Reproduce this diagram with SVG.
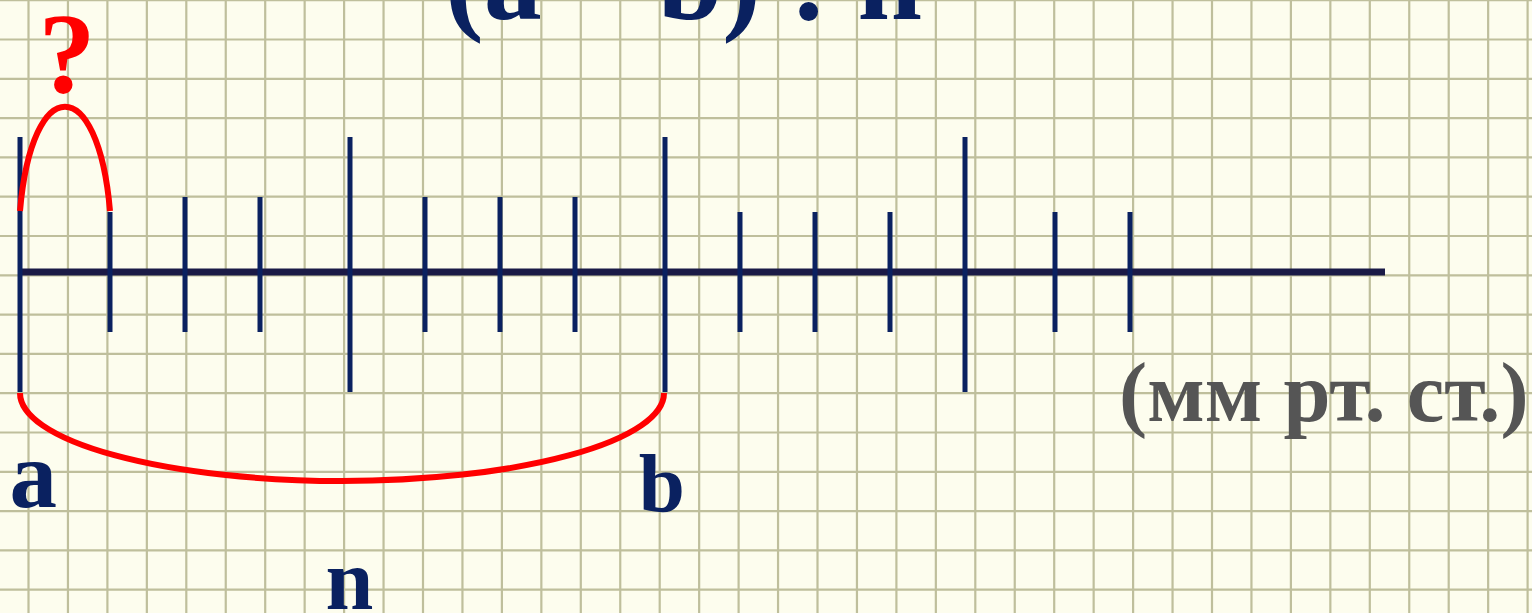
<svg xmlns="http://www.w3.org/2000/svg" width="1532" height="613" viewBox="0 0 1532 613">
<style>
.grid{stroke:#bfbf9c;stroke-width:2.2;fill:none}
.axis{stroke:#1a1a46;stroke-width:7;fill:none}
.tick{stroke:#0a2160;stroke-width:5;fill:none}
.arc{stroke:#ff0000;stroke-width:6;fill:none}
.lbl{font-family:"Liberation Serif","Times New Roman",serif;font-weight:bold;fill:#0a2160}
</style>
<rect x="0" y="0" width="1532" height="613" fill="#fdfdee"/>
<path class="grid" d="M28.5,0V613M67.95,0V613M107.4,0V613M146.85,0V613M186.3,0V613M225.75,0V613M265.2,0V613M304.65,0V613M344.1,0V613M383.55,0V613M423,0V613M462.45,0V613M501.9,0V613M541.35,0V613M580.8,0V613M620.25,0V613M659.7,0V613M699.15,0V613M738.6,0V613M778.05,0V613M817.5,0V613M856.95,0V613M896.4,0V613M935.85,0V613M975.3,0V613M1014.75,0V613M1054.2,0V613M1093.65,0V613M1133.1,0V613M1172.55,0V613M1212,0V613M1251.45,0V613M1290.9,0V613M1330.35,0V613M1369.8,0V613M1409.25,0V613M1448.7,0V613M1488.15,0V613M1527.6,0V613M0,0.2H1532M0,39.5H1532M0,78.8H1532M0,118.1H1532M0,157.4H1532M0,196.7H1532M0,236H1532M0,275.3H1532M0,314.6H1532M0,353.9H1532M0,393.2H1532M0,432.5H1532M0,471.8H1532M0,511.1H1532M0,550.4H1532M0,589.7H1532"/>
<text id="title" class="lbl" x="445" y="19" font-size="116">(a – b) : n</text>
<g id="connectors">
<line id="axis" class="axis" x1="18" y1="272" x2="1385" y2="272"/>
</g>
<g id="ticks">
<line class="tick" x1="20" y1="137" x2="20" y2="392"/>
<line class="tick" x1="110" y1="212" x2="110" y2="332"/>
<line class="tick" x1="185" y1="197" x2="185" y2="332"/>
<line class="tick" x1="260" y1="197" x2="260" y2="332"/>
<line class="tick" x1="350" y1="137" x2="350" y2="392"/>
<line class="tick" x1="425" y1="197" x2="425" y2="332"/>
<line class="tick" x1="500" y1="197" x2="500" y2="332"/>
<line class="tick" x1="575" y1="197" x2="575" y2="332"/>
<line class="tick" x1="665" y1="137" x2="665" y2="392"/>
<line class="tick" x1="740" y1="212" x2="740" y2="332"/>
<line class="tick" x1="815" y1="212" x2="815" y2="332"/>
<line class="tick" x1="890" y1="212" x2="890" y2="332"/>
<line class="tick" x1="965" y1="137" x2="965" y2="392"/>
<line class="tick" x1="1055" y1="212" x2="1055" y2="332"/>
<line class="tick" x1="1130" y1="212" x2="1130" y2="332"/>
</g>
<g id="arcs">
<path class="arc" d="M20,211 C32,72 98,72 110,211"/>
<path class="arc" d="M20,393 A322,88 0 0 0 664,393"/>
</g>
<g id="question"><text x="38.5" y="91.5" font-size="114" font-family="Liberation Serif, serif" font-weight="bold" fill="#ff0000">?</text></g>
<g id="label-a"><text class="lbl" x="9.6" y="506.7" font-size="95">a</text></g>
<g id="label-b"><text class="lbl" x="638.7" y="510.8" font-size="83">b</text></g>
<g id="label-n"><text class="lbl" x="325.6" y="608.5" font-size="86">n</text></g>
<g id="units"><text x="1119" y="421" font-size="84.5" font-family="Liberation Serif, serif" font-weight="bold" fill="#555555">(мм рт. ст.)</text></g>
</svg>
